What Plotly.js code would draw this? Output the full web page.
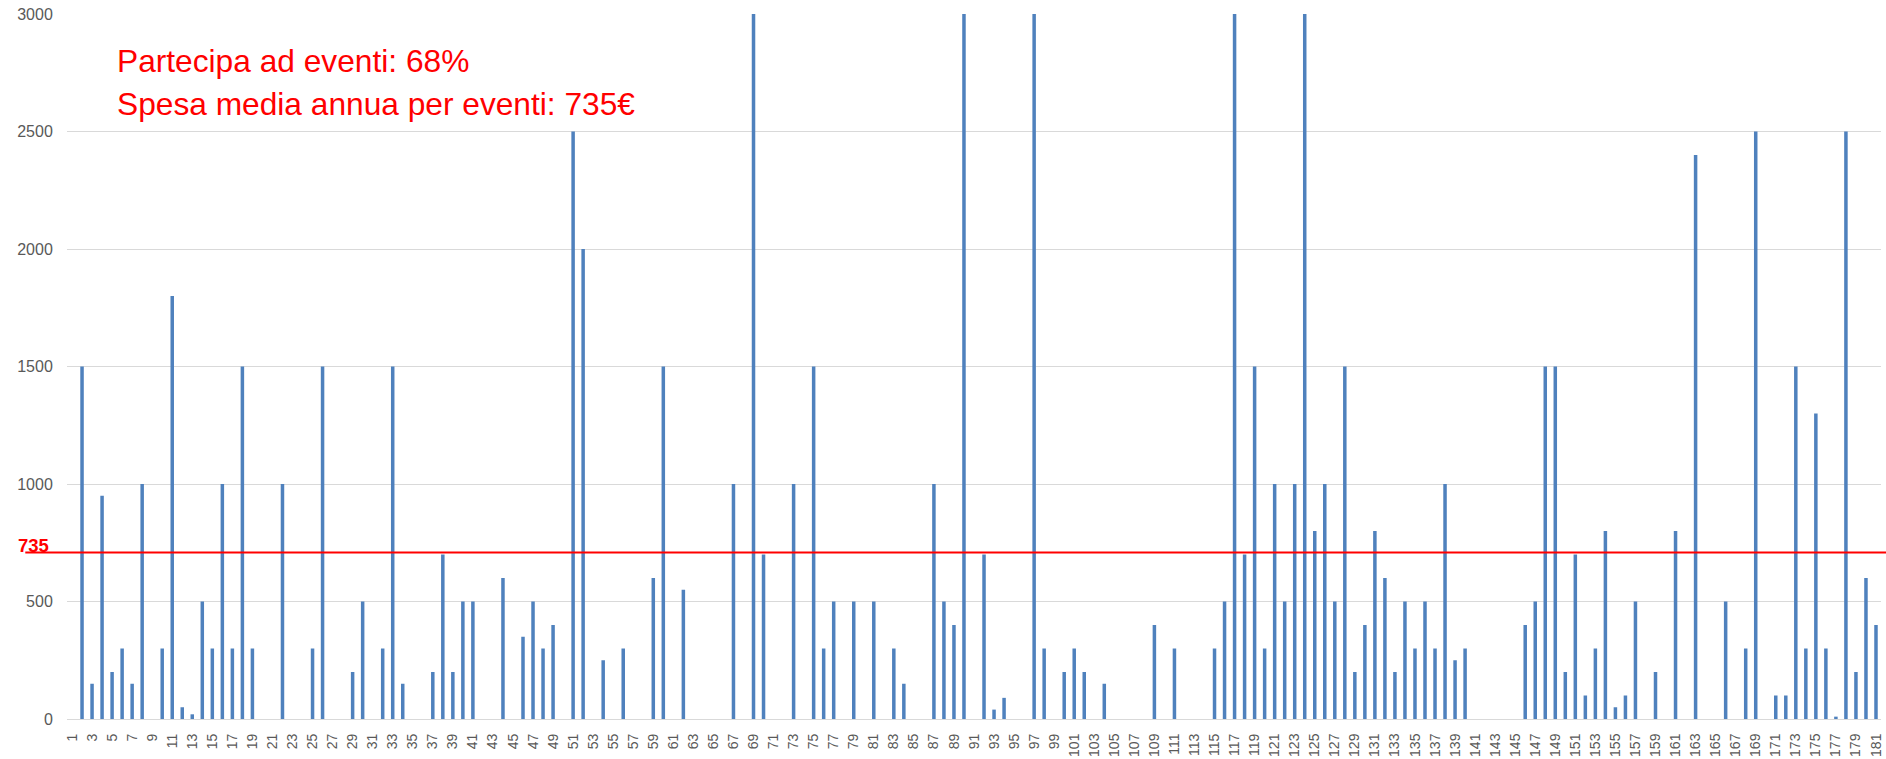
<!DOCTYPE html>
<html>
<head>
<meta charset="utf-8">
<script src="https://cdn.plot.ly/plotly-3.0.1.min.js"></script>
<style>
  html, body { margin: 0; padding: 0; background: #ffffff; }
  #chart { width: 1886px; height: 759px; }
</style>
</head>
<body>
<div id="chart"></div>
<script>
// Respondent ids 1..181
const respondents = [];
for (let i = 1; i <= 181; i++) respondents.push(i);

// Annual spending on events (€) per respondent
const spending = [
  0, 1500, 150, 950, 200, 300, 150, 1000, 0, 300,
  1800, 50, 20, 500, 300, 1000, 300, 1500, 300, 0,
  0, 1000, 0, 0, 300, 1500, 0, 0, 200, 500,
  0, 300, 1500, 150, 0, 0, 200, 700, 200, 500,
  500, 0, 0, 600, 0, 350, 500, 300, 400, 0,
  2500, 2000, 0, 250, 0, 300, 0, 0, 600, 1500,
  0, 550, 0, 0, 0, 0, 1000, 0, 3000, 700,
  0, 0, 1000, 0, 1500, 300, 500, 0, 500, 0,
  500, 0, 300, 150, 0, 0, 1000, 500, 400, 3000,
  0, 700, 40, 90, 0, 0, 3000, 300, 0, 200,
  300, 200, 0, 150, 0, 0, 0, 0, 400, 0,
  300, 0, 0, 0, 300, 500, 3000, 700, 1500, 300,
  1000, 500, 1000, 3000, 800, 1000, 500, 1500, 200, 400,
  800, 600, 200, 500, 300, 500, 300, 1000, 250, 300,
  0, 0, 0, 0, 0, 400, 500, 1500, 1500, 200,
  700, 100, 300, 800, 50, 100, 500, 0, 200, 0,
  800, 0, 2400, 0, 0, 500, 0, 300, 2500, 0,
  100, 100, 1500, 300, 1300, 300, 10, 2500, 200, 600,
  400
];

// Tick labels: every other respondent
const xTickVals = respondents.filter(v => v % 2 === 1);
const xTickText = xTickVals.map(String);
const yTickVals = [0, 500, 1000, 1500, 2000, 2500, 3000];

// Mean line (position as drawn in the picture) and its label
const meanLineY = 708;
const meanLabel = "735";
const infoLines = ["Partecipa ad eventi: 68%", "Spesa media annua per eventi: 735€"];

const trace = {
  type: 'bar',
  x: respondents,
  y: spending,
  width: 0.35,
  marker: { color: '#4f81bd', line: { width: 0 } },
  hoverinfo: 'x+y'
};

const layout = {
  width: 1886,
  height: 759,
  margin: { l: 67, r: 5, t: 14, b: 40 },
  paper_bgcolor: '#ffffff',
  plot_bgcolor: '#ffffff',
  showlegend: false,
  font: { family: 'Liberation Sans, Arial, sans-serif', color: '#595959' },
  xaxis: {
    type: 'linear',
    range: [0.5, 181.5],
    tickmode: 'array',
    tickvals: xTickVals,
    ticktext: xTickText,
    tickangle: -90,
    tickfont: { size: 14, color: '#595959' },
    showgrid: false,
    zeroline: false,
    showline: false,
    ticks: 'outside',
    ticklen: 8,
    tickcolor: 'rgba(0,0,0,0)',
    fixedrange: true
  },
  yaxis: {
    range: [0, 3000],
    tickmode: 'array',
    tickvals: yTickVals,
    tickfont: { size: 16, color: '#595959' },
    showgrid: true,
    gridcolor: '#d9d9d9',
    gridwidth: 1,
    zeroline: true,
    zerolinecolor: '#d9d9d9',
    zerolinewidth: 1,
    showline: false,
    ticks: 'outside',
    ticklen: 10,
    tickcolor: 'rgba(0,0,0,0)',
    fixedrange: true
  },
  shapes: [
    {
      type: 'line',
      xref: 'paper', yref: 'y',
      x0: -0.023, x1: 1.003,
      y0: meanLineY, y1: meanLineY,
      line: { color: '#ff0000', width: 2 },
      layer: 'above'
    }
  ],
  annotations: [
    {
      xref: 'paper', yref: 'y',
      x: 0, y: meanLineY,
      xanchor: 'right', yanchor: 'bottom',
      xshift: -16, yshift: -5,
      text: '<b>' + meanLabel + '</b>',
      showarrow: false,
      font: { size: 18.5, color: '#ff0000', family: 'Liberation Sans, Arial, sans-serif' }
    },
    {
      xref: 'paper', yref: 'paper',
      x: 0.0262, y: 0.934,
      xanchor: 'left', yanchor: 'middle',
      text: infoLines[0],
      showarrow: false,
      font: { size: 31.7, color: '#ff0000', family: 'Liberation Sans, Arial, sans-serif' }
    },
    {
      xref: 'paper', yref: 'paper',
      x: 0.0262, y: 0.873,
      xanchor: 'left', yanchor: 'middle',
      text: infoLines[1],
      showarrow: false,
      font: { size: 31.7, color: '#ff0000', family: 'Liberation Sans, Arial, sans-serif' }
    }
  ]
};

Plotly.newPlot('chart', [trace], layout, { displayModeBar: false, staticPlot: true });
</script>
</body>
</html>
